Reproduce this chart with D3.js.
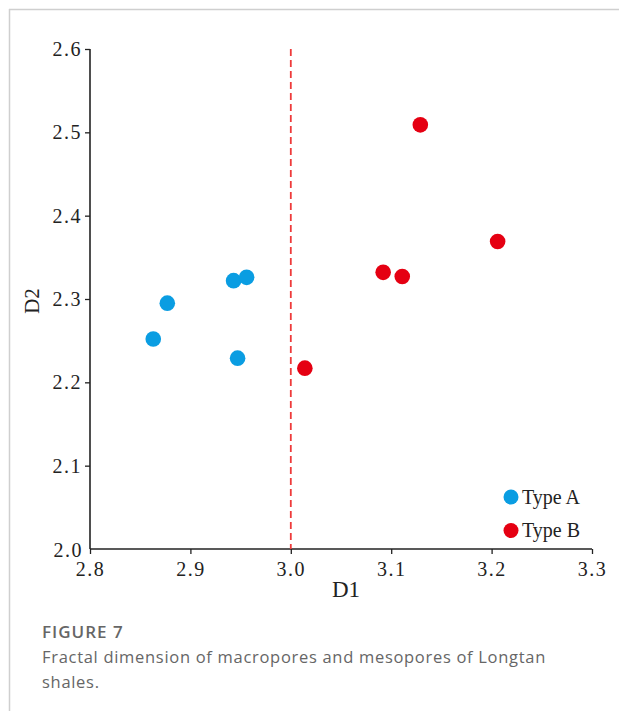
<!DOCTYPE html>
<html lang="en">
<head>
<meta charset="UTF-8">
<title>Fractal dimension</title>
<script src="https://d3js.org/d3.v7.min.js"></script>
<style>
  body { margin: 0; background: #fff; }
  svg text { font-family: "Liberation Serif", "Times New Roman", serif; fill: #222; }
  .caption { font-family: "Open Sans", Lato, sans-serif; fill: #666; }
</style>
</head>
<body>
<svg id="chart" width="619" height="711"></svg>
<script>
// data
const typeA_D1 = [2.863, 2.877, 2.943, 2.956, 2.947];
const typeA_D2 = [2.252, 2.295, 2.322, 2.326, 2.229];
const typeB_D1 = [3.129, 3.206, 3.092, 3.111, 3.014];
const typeB_D2 = [2.509, 2.369, 2.332, 2.327, 2.217];
const xTicks = [2.8, 2.9, 3.0, 3.1, 3.2, 3.3];
const yTicks = [2.0, 2.1, 2.2, 2.3, 2.4, 2.5, 2.6];
const seriesNames = ["Type A", "Type B"];
const colors = ["#0a9de2", "#e50012"];
const cutoff = 3.0;

const svg = d3.select("#chart");

// frame lines of the figure panel
svg.append("line").attr("x1", 9).attr("x2", 619).attr("y1", 9.5).attr("y2", 9.5)
  .attr("stroke", "#cfcfcf").attr("stroke-width", 1.5);
svg.append("line").attr("x1", 9.5).attr("x2", 9.5).attr("y1", 9).attr("y2", 711)
  .attr("stroke", "#cfcfcf").attr("stroke-width", 1.5);

const x = d3.scaleLinear().domain([2.8, 3.3]).range([90, 592]);
const y = d3.scaleLinear().domain([2.0, 2.6]).range([549, 49]);

const tickFont = "20px";

// axes
const xAxis = svg.append("g")
  .attr("transform", `translate(0,${y(2.0)})`)
  .call(d3.axisBottom(x).tickValues(xTicks).tickFormat(d3.format(".1f")).tickSizeOuter(0).tickSize(5).tickPadding(8));
const yAxis = svg.append("g")
  .attr("transform", `translate(${x(2.8)},0)`)
  .call(d3.axisLeft(y).tickValues(yTicks.slice(1)).tickFormat(d3.format(".1f")).tickSizeOuter(0).tickSize(5).tickPadding(3));
[xAxis, yAxis].forEach(g => {
  g.select(".domain").attr("stroke", "#222").attr("stroke-width", 1.6);
  g.selectAll(".tick line").attr("stroke", "#222").attr("stroke-width", 1.3);
  g.selectAll("text")
    .style("font-family", "'Liberation Serif', serif")
    .style("font-size", tickFont)
    .style("letter-spacing", "1.5px")
    .attr("fill", "#222");
});
xAxis.select(".domain").attr("d", `M${x(2.8)},0H${x(3.3)}`);
yAxis.select(".domain").attr("d", `M0,${y(2.6)}V${y(2.0)}`);
// 2.0 label sits at the corner, without a tick
yAxis.append("text")
  .attr("x", -7).attr("y", y(2.0)).attr("dy", "0.4em")
  .attr("text-anchor", "end")
  .style("font-size", tickFont).style("letter-spacing", "1.5px")
  .attr("fill", "#222").text("2.0");

// axis titles
svg.append("text").attr("x", 346).attr("y", 597)
  .attr("text-anchor", "middle").style("font-size", "23px").text("D1");
svg.append("text").attr("transform", `translate(39,${y(2.3) + 2}) rotate(-90)`)
  .attr("text-anchor", "middle").style("font-size", "21px").text("D2");

// dashed boundary
svg.append("line")
  .attr("x1", x(cutoff)).attr("x2", x(cutoff))
  .attr("y1", y(2.6)).attr("y2", y(2.0))
  .attr("stroke", "#ee3b3b").attr("stroke-width", 1.8)
  .attr("stroke-dasharray", "7,4");

// points
const groups = [
  d3.zip(typeA_D1, typeA_D2),
  d3.zip(typeB_D1, typeB_D2)
];
groups.forEach((pts, i) => {
  svg.append("g").selectAll("circle")
    .data(pts)
    .join("circle")
    .attr("cx", d => x(d[0]))
    .attr("cy", d => y(d[1]))
    .attr("r", 7.8)
    .attr("fill", colors[i]);
});

// legend
const legend = svg.append("g").attr("transform", "translate(511,497)");
legend.selectAll("circle")
  .data(seriesNames)
  .join("circle")
  .attr("cx", 0).attr("cy", (d, i) => i * 33.5)
  .attr("r", 7.5)
  .attr("fill", (d, i) => colors[i]);
legend.selectAll("text")
  .data(seriesNames)
  .join("text")
  .attr("x", 11).attr("y", (d, i) => i * 33.5 + 6.5)
  .style("font-size", "20px")
  .text(d => d);

// caption
svg.append("text").attr("class", "caption")
  .attr("x", 42).attr("y", 638)
  .style("font-size", "17px").style("font-weight", 600).style("letter-spacing", "1px")
  .text("FIGURE 7");
svg.append("text").attr("class", "caption")
  .attr("x", 42).attr("y", 663)
  .style("font-size", "16.5px").style("letter-spacing", "0.7px")
  .text("Fractal dimension of macropores and mesopores of Longtan");
svg.append("text").attr("class", "caption")
  .attr("x", 42).attr("y", 688)
  .style("font-size", "16.5px").style("letter-spacing", "0.7px")
  .text("shales.");
</script>
</body>
</html>
